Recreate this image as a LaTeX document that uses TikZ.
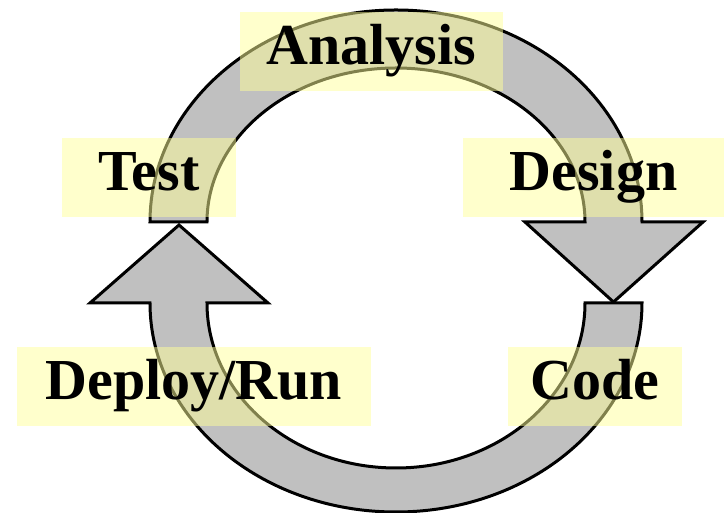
\documentclass[tikz,border=0pt]{standalone}
\usepackage{fontspec}
\setmainfont{Liberation Serif}
\definecolor{arrowgray}{RGB}{192,192,192}
\definecolor{labelyellow}{RGB}{255,255,153}
\tikzset{
  cyclearrow/.style={fill=arrowgray, draw=black, line width=3pt},
  phase/.style={fill=labelyellow, fill opacity=0.5, text opacity=1,
    minimum height=79pt, inner sep=0pt, text height=40pt, text depth=14pt,
    font=\bfseries\fontsize{58}{60}\selectfont}
}

\begin{document}
\begin{tikzpicture}[x=1pt,y=1pt]
\useasboundingbox (0,0) rectangle (724,513);
% upper arrow, over the top
\draw[cyclearrow] (150,291) arc[start angle=180, end angle=0, x radius=246, y radius=212]
  -- (703,291) -- (613.5,211) -- (525,291) -- (585,291)
  arc[start angle=0, end angle=180, x radius=189, y radius=154] -- cycle;
% lower arrow, round the bottom
\draw[cyclearrow] (585,210) arc[start angle=0, end angle=-180, x radius=189, y radius=165]
  -- (268,210) -- (179,288) -- (90,210) -- (150,210)
  arc[start angle=180, end angle=360, x radius=246, y radius=209] -- cycle;
% phases
\node[phase, minimum width=263pt] (analysis) at (371.5,461.5) {Analysis};
\node[phase, minimum width=174pt] (test) at (149,335.5) {Test};
\node[phase, minimum width=261pt] (design) at (593.5,335.5) {Design};
\node[phase, minimum width=354pt] (deploy) at (194,126) {Deploy/Run};
\node[phase, minimum width=174pt] (code) at (595,126) {Code};
\end{tikzpicture}
\end{document}
